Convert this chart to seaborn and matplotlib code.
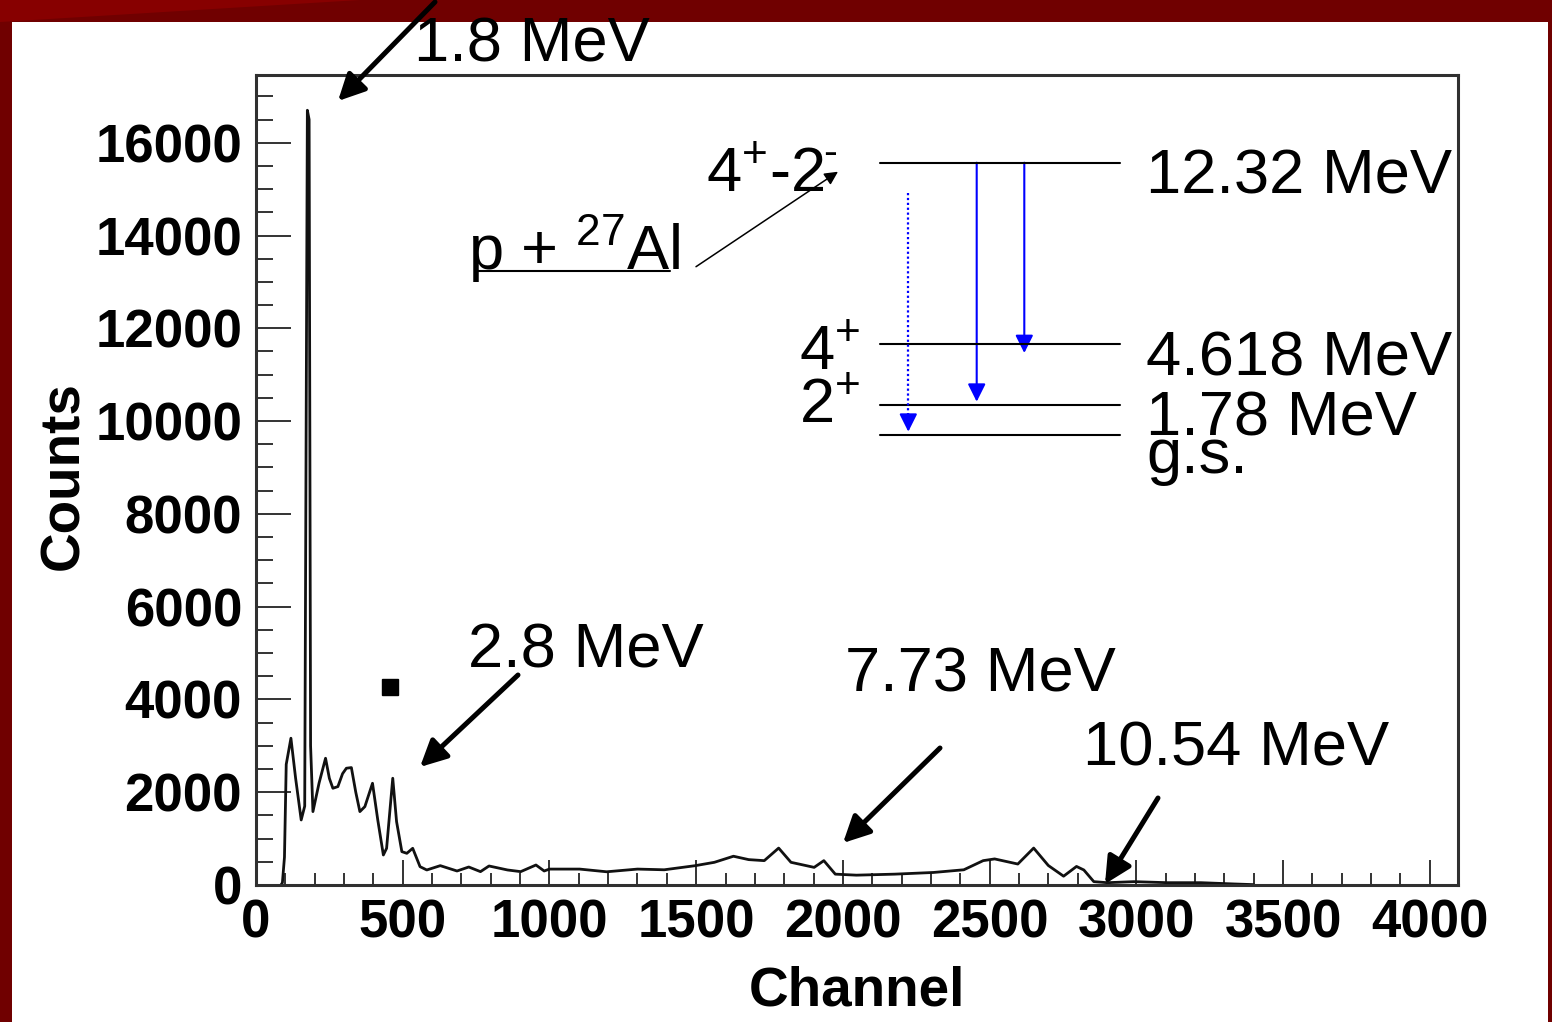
import matplotlib
matplotlib.use("Agg")
import matplotlib.pyplot as plt
from matplotlib.patches import Rectangle, Polygon, FancyArrowPatch
from matplotlib.ticker import MultipleLocator
import seaborn as sns

# spectrum
channel = [85, 90, 97, 103, 119, 135, 154, 166, 175, 181, 186, 194, 215, 237, 250,
           262, 279, 295, 308, 325, 340, 354, 371, 397, 415, 434, 445, 466, 479,
           497, 514, 534, 559, 582, 628, 685, 725, 765, 794, 857, 902, 954, 982,
           1000, 1103, 1195, 1300, 1391, 1496, 1562, 1627, 1679, 1732, 1781, 1823,
           1902, 1935, 1974, 2046, 2177, 2308, 2412, 2478, 2517, 2596, 2650, 2700,
           2752, 2796, 2821, 2855, 2901, 2992, 3106, 3220, 3277, 3334, 3400]
counts = [0, 50, 600, 2600, 3164, 2300, 1402, 1700, 16700, 16500, 3000, 1582, 2200,
          2732, 2300, 2085, 2121, 2400, 2517, 2531, 2000, 1582, 1690, 2193, 1400,
          647, 791, 2301, 1366, 719, 683, 791, 395, 324, 417, 302, 388, 288, 410,
          324, 288, 431, 302, 343, 343, 285, 343, 328, 416, 489, 620, 547, 525,
          796, 489, 380, 525, 234, 212, 234, 270, 328, 525, 562, 452, 796, 420,
          190, 400, 324, 72, 50, 72, 50, 50, 36, 22, 8]

x_ticks = [0, 500, 1000, 1500, 2000, 2500, 3000, 3500, 4000]
y_ticks = [0, 2000, 4000, 6000, 8000, 10000, 12000, 14000, 16000]

peak_labels = ["1.8 MeV", "2.8 MeV", "7.73 MeV", "10.54 MeV"]
level_names = ["12.32 MeV", "4.618 MeV", "1.78 MeV", "g.s."]
level_spins = [r"4$^{+}$-2", r"4$^{+}$", r"2$^{+}$"]
reaction = r"p + $^{27}$Al"

W, H = 1552, 1022

sns.set_style("white")
plt.rcParams["font.family"] = ["Liberation Sans", "DejaVu Sans"]
plt.rcParams["mathtext.fontset"] = "custom"
plt.rcParams["mathtext.rm"] = "Liberation Sans"
plt.rcParams["mathtext.it"] = "Liberation Sans:italic"
plt.rcParams["mathtext.bf"] = "Liberation Sans:bold"
plt.rcParams["text.color"] = "black"
plt.rcParams["axes.labelcolor"] = "black"
plt.rcParams["xtick.color"] = "black"
plt.rcParams["ytick.color"] = "black"

fig = plt.figure(figsize=(W / 100, H / 100), dpi=100, facecolor="#700000")
# white slide panel inside the dark red frame
fig.add_artist(Rectangle((12 / W, 0), (1548 - 12) / W, (H - 22) / H,
                         transform=fig.transFigure, facecolor="white",
                         edgecolor="none", zorder=-10))
fig.add_artist(Polygon([(0, 1), (360 / W, 1), (0, 1 - 22 / H)], closed=True,
                       transform=fig.transFigure, facecolor="#870000",
                       edgecolor="none", zorder=-9))

ax = fig.add_axes([256 / W, 1 - 885 / H, (1458 - 256) / W, (885 - 75) / H])
ax.set_facecolor("white")
sns.lineplot(x=channel, y=counts, ax=ax, color="#111111", linewidth=2.0)
ax.set_xlim(0, 4096)
ax.set_ylim(0, 17460)

for sp in ax.spines.values():
    sp.set_color("#303030")
    sp.set_linewidth(2.2)

ax.set_xticks(x_ticks)
ax.set_xticklabels([str(v) for v in x_ticks], fontweight="bold")
ax.set_yticks(y_ticks)
ax.set_yticklabels([str(v) for v in y_ticks], fontweight="bold")
ax.xaxis.set_minor_locator(MultipleLocator(100))
ax.yaxis.set_minor_locator(MultipleLocator(500))
ax.tick_params(axis="both", which="both", direction="in", top=False, right=False,
               left=True, bottom=True, color="#333333", labelcolor="black",
               width=1.4, labelsize=38)
ax.tick_params(axis="y", which="major", length=25, pad=10)
ax.tick_params(axis="y", which="minor", length=12.5)
ax.tick_params(axis="x", which="major", length=18, pad=10)
ax.tick_params(axis="x", which="minor", length=9)

ax.set_xlabel("Channel", fontsize=39.5, fontweight="bold")
ax.set_ylabel("Counts", fontsize=39.5, fontweight="bold")
ax.xaxis.set_label_coords(0.5, -0.099)
ax.yaxis.set_label_coords(-0.138, 0.506)

# overlay in pixel coordinates for the annotations and level scheme
ov = fig.add_axes([0, 0, 1, 1], zorder=5)
ov.set_xlim(0, W)
ov.set_ylim(H, 0)
ov.axis("off")
ov.patch.set_alpha(0)


def arrow(x0, y0, x1, y1, color="black", lw=3.6, ms=40):
    ov.add_patch(FancyArrowPatch((x0, y0), (x1, y1), arrowstyle="-|>",
                                 mutation_scale=ms, lw=lw, color=color,
                                 shrinkA=0, shrinkB=0, clip_on=False))


txt = dict(fontsize=45.5, va="baseline", ha="left", color="black")

# peak labels with arrows
peak_text_pos = [(414, 62), (468, 668), (845, 691), (1083, 766)]
peak_arrows = [(435, 2, 338, 101), (518, 675, 420, 767),
               (940, 748, 843, 843), (1158, 798, 1105, 884)]
for lab, (tx, ty), a in zip(peak_labels, peak_text_pos, peak_arrows):
    ov.text(tx, ty, lab, **txt)
    arrow(*a)

ov.add_patch(Rectangle((382, 679), 16, 16, color="black"))

# level scheme
level_y = [162.7, 344, 405, 435]
for y in level_y:
    ov.plot([880, 1120], [y, y], color="black", lw=1.5)
name_base = [194, 375, 436, 473]
for lab, yb in zip(level_names, name_base):
    ov.text(1146, yb, lab, **txt)
spin_pos = [(706, 192), (799, 370), (799, 423)]
for lab, (sx, sy) in zip(level_spins, spin_pos):
    ov.text(sx, sy, lab, **txt)
# small raised dash after the 2 of the 4+-2- label
ov.text(823, 165, "-", fontsize=30, va="baseline", ha="left", color="black")

arrow(976.7, 162.7, 976.7, 401.7, color="#0000ff", lw=1.5, ms=27)
arrow(1024.3, 162.7, 1024.3, 353, color="#0000ff", lw=1.5, ms=27)
ov.plot([908.3, 908.3], [193, 418], color="#0000ff", lw=1.6, linestyle=(0, (1, 1.2)))
arrow(908.3, 414, 908.3, 431.7, color="#0000ff", lw=1.5, ms=27)

# reaction label
ov.text(468, 270, reaction, **txt)
ov.plot([478, 670], [271, 271], color="black", lw=1.5)
arrow(696, 266.7, 838, 171.7, lw=1.1, ms=20)

fig.savefig("out.png", dpi=100)
